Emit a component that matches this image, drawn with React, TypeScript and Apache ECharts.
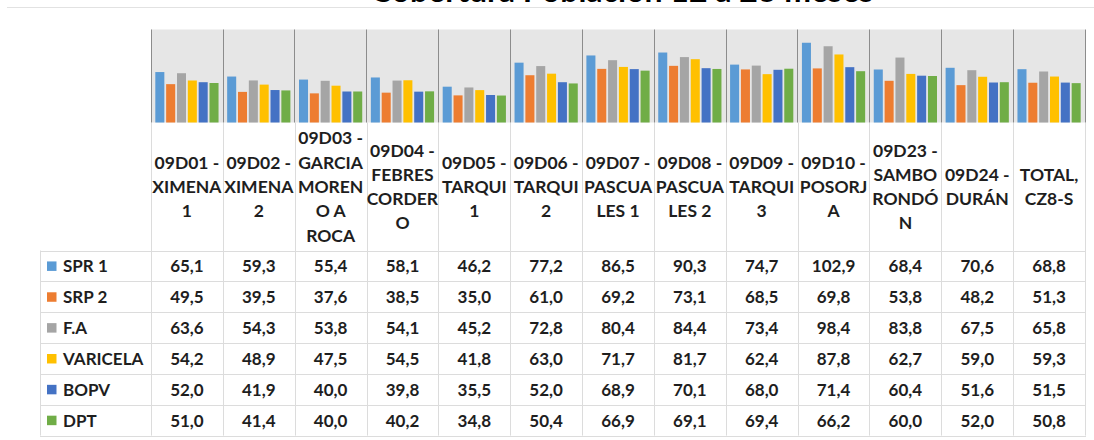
import React, { useEffect, useRef } from "react";
import * as echarts from "echarts";

const TITLE = "Cobertura Población 12 a 23 meses";

const CATEGORIES = [
  "09D01 -\nXIMENA\n1",
  "09D02 -\nXIMENA\n2",
  "09D03 -\nGARCIA\nMOREN\nO A\nROCA",
  "09D04 -\nFEBRES\nCORDER\nO",
  "09D05 -\nTARQUI\n1",
  "09D06 -\nTARQUI\n2",
  "09D07 -\nPASCUA\nLES 1",
  "09D08 -\nPASCUA\nLES 2",
  "09D09 -\nTARQUI\n3",
  "09D10 -\nPOSORJ\nA",
  "09D23 -\nSAMBO\nRONDÓ\nN",
  "09D24 -\nDURÁN",
  "TOTAL,\nCZ8-S",
];

const SERIES_NAMES = ["SPR 1", "SRP 2", "F.A", "VARICELA", "BOPV", "DPT"];

const SPR1 = [65.1, 59.3, 55.4, 58.1, 46.2, 77.2, 86.5, 90.3, 74.7, 102.9, 68.4, 70.6, 68.8];
const SRP2 = [49.5, 39.5, 37.6, 38.5, 35.0, 61.0, 69.2, 73.1, 68.5, 69.8, 53.8, 48.2, 51.3];
const FA = [63.6, 54.3, 53.8, 54.1, 45.2, 72.8, 80.4, 84.4, 73.4, 98.4, 83.8, 67.5, 65.8];
const VARICELA = [54.2, 48.9, 47.5, 54.5, 41.8, 63.0, 71.7, 81.7, 62.4, 87.8, 62.7, 59.0, 59.3];
const BOPV = [52.0, 41.9, 40.0, 39.8, 35.5, 52.0, 68.9, 70.1, 68.0, 71.4, 60.4, 51.6, 51.5];
const DPT = [51.0, 41.4, 40.0, 40.2, 34.8, 50.4, 66.9, 69.1, 69.4, 66.2, 60.0, 52.0, 50.8];

const SERIES_VALUES = [SPR1, SRP2, FA, VARICELA, BOPV, DPT];
const COLORS = ["#5B9BD5", "#ED7D31", "#A5A5A5", "#FFC000", "#4472C4", "#70AD47"];

const W = 1094;
const H = 440;
const PLOT_LEFT = 151;
const PLOT_RIGHT = 1085;
const PLOT_TOP = 29.5;
const PLOT_BOTTOM = 122.5;
const TABLE_LEFT = 40;
const HEADER_BOTTOM = 250.5;
const ROW_H = 30.85;
const FONT = "Lato";
const TEXT_COLOR = "#1E1E1E";
const LINE_COLOR = "#DCDCDC";

const fmt = (v: number) => v.toFixed(1).replace(".", ",");

export default function App() {
  const ref = useRef<HTMLDivElement>(null);

  useEffect(() => {
    if (!ref.current) return;
    const chart = echarts.init(ref.current, null, { renderer: "svg" });
    const n = CATEGORIES.length;
    const colW = (PLOT_RIGHT - PLOT_LEFT) / n;
    const tableBottom = HEADER_BOTTOM + ROW_H * SERIES_NAMES.length;

    const graphics: any[] = [];
    // top thin line
    graphics.push({
      type: "line",
      shape: { x1: 7, y1: 7.5, x2: W, y2: 7.5 },
      style: { stroke: "#E2E2E2", lineWidth: 1 },
      silent: true,
    });
    // title (cut at top)
    graphics.push({
      type: "text",
      x: 622,
      y: -11,
      style: {
        text: TITLE,
        align: "center",
        verticalAlign: "middle",
        font: `bold 32px ${FONT}`,
        fill: "#000000",
      },
      silent: true,
    });
    // vertical table lines
    for (let i = 0; i <= n; i++) {
      const x = Math.round(PLOT_LEFT + i * colW) + 0.5;
      graphics.push({
        type: "line",
        shape: { x1: x, y1: PLOT_BOTTOM, x2: x, y2: tableBottom },
        style: { stroke: LINE_COLOR, lineWidth: 1 },
        silent: true,
      });
    }
    graphics.push({
      type: "line",
      shape: { x1: TABLE_LEFT + 0.5, y1: HEADER_BOTTOM, x2: TABLE_LEFT + 0.5, y2: tableBottom },
      style: { stroke: LINE_COLOR, lineWidth: 1 },
      silent: true,
    });
    // horizontal table lines
    for (let r = 0; r <= SERIES_NAMES.length; r++) {
      const y = Math.round(HEADER_BOTTOM + r * ROW_H) + 0.5;
      graphics.push({
        type: "line",
        shape: { x1: TABLE_LEFT, y1: y, x2: PLOT_RIGHT + 1, y2: y },
        style: { stroke: LINE_COLOR, lineWidth: 1 },
        silent: true,
      });
    }
    // legend keys + values
    SERIES_NAMES.forEach((name, r) => {
      const cy = HEADER_BOTTOM + (r + 0.5) * ROW_H;
      graphics.push({
        type: "rect",
        shape: { x: 47, y: cy - 4.5, width: 9.5, height: 9.5 },
        style: { fill: COLORS[r] },
        silent: true,
      });
      graphics.push({
        type: "text",
        x: 63,
        y: cy,
        style: {
          text: name,
          align: "left",
          verticalAlign: "middle",
          font: `bold 17px ${FONT}`,
          fill: TEXT_COLOR,
        },
        silent: true,
      });
      SERIES_VALUES[r].forEach((v, i) => {
        graphics.push({
          type: "text",
          x: PLOT_LEFT + (i + 0.5) * colW,
          y: cy,
          style: {
            text: fmt(v),
            align: "center",
            verticalAlign: "middle",
            font: `bold 17px ${FONT}`,
            fill: TEXT_COLOR,
          },
          silent: true,
        });
      });
    });

    chart.setOption({
      animation: false,
      backgroundColor: "#FFFFFF",
      grid: {
        left: PLOT_LEFT,
        right: W - PLOT_RIGHT,
        top: PLOT_TOP,
        bottom: H - PLOT_BOTTOM,
        show: true,
        backgroundColor: "#E6E6E6",
        borderWidth: 0,
      },
      xAxis: {
        type: "category",
        data: CATEGORIES,
        axisLine: { show: false },
        axisTick: { show: false },
        splitLine: { show: true, interval: 0, lineStyle: { color: "#8C8C8C", width: 1 } },
        axisLabel: {
          interval: 0,
          margin: 64,
          verticalAlign: "middle",
          align: "center",
          fontFamily: FONT,
          fontWeight: "bold",
          fontSize: 17.5,
          lineHeight: 24.3,
          color: TEXT_COLOR,
        },
      },
      yAxis: {
        type: "value",
        min: 0,
        max: 120,
        show: false,
        splitLine: { show: false },
      },
      series: SERIES_NAMES.map((name, r) => ({
        name,
        type: "bar",
        data: SERIES_VALUES[r],
        barCategoryGap: "12%",
        barGap: "20%",
        itemStyle: { color: COLORS[r] },
      })),
      graphic: graphics,
    });

    return () => chart.dispose();
  }, []);

  return (
    <div
      ref={ref}
      style={{ position: "fixed", left: 0, top: 0, width: W, height: H, background: "#fff" }}
    />
  );
}
